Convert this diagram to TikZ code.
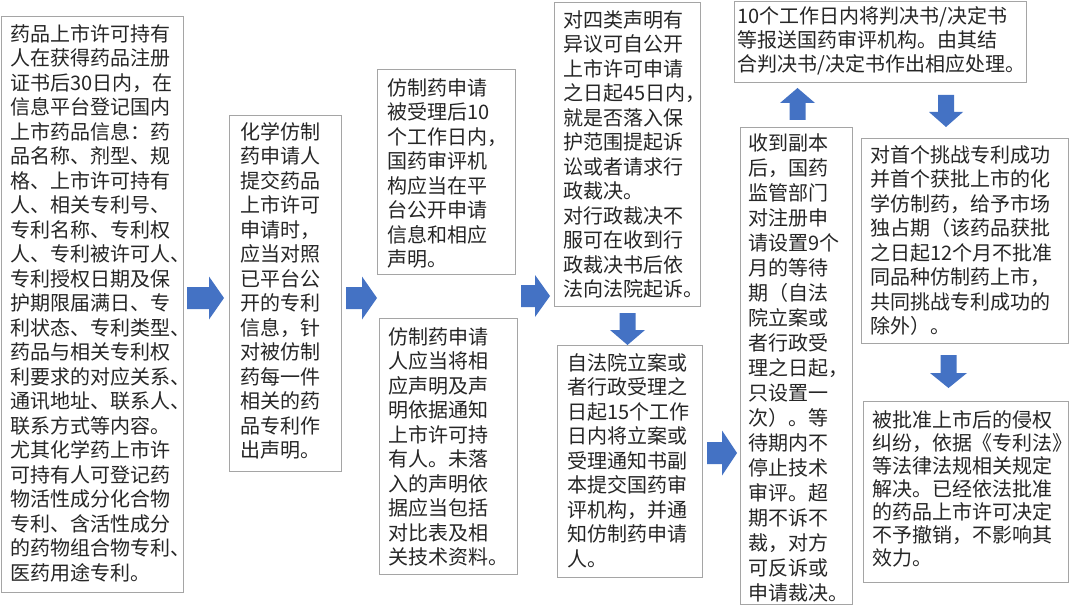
\documentclass[tikz,border=0pt]{standalone}
\usepackage{fontspec}
\newfontfamily\cjk{Noto Sans CJK SC}
\definecolor{arrowblue}{HTML}{4472C4}
\definecolor{boxgray}{HTML}{A5A5A5}
\definecolor{txtgray}{HTML}{262626}
% name, cx, cy, angle, length, head width, shaft width
\newcommand\blockarrow[7]{%
  \coordinate (#1) at (#2,#3);
  \fill[arrowblue, shift={(#1)}, rotate=#4]
    (-#5/2,-#7/2) -- (#5/2-15,-#7/2) -- (#5/2-15,-#6/2) -- (#5/2,0)
    -- (#5/2-15,#6/2) -- (#5/2-15,#7/2) -- (-#5/2,#7/2) -- cycle;}
\begin{document}
\begin{tikzpicture}[x=1pt,y=-1pt,
  frame/.style={draw=boxgray, line width=1pt, rectangle, inner sep=0pt, anchor=north west},
  txt/.style={font=\cjk\fontsize{20}{24.5}\selectfont, text=txtgray, align=left, inner sep=0pt, anchor=north west}]
\fill[white] (0,0) rectangle (1080,607);
\useasboundingbox (0,0) rectangle (1080,607);

% frames
\node[frame, minimum width=182pt, minimum height=576pt] (b1) at (1,16) {};
\node[frame, minimum width=112pt, minimum height=356pt] (b2) at (229,115) {};
\node[frame, minimum width=138pt, minimum height=205pt] (b3t) at (377,69) {};
\node[frame, minimum width=138pt, minimum height=256pt] (b3b) at (379,318) {};
\node[frame, minimum width=146pt, minimum height=304pt] (b4t) at (554,2) {};
\node[frame, minimum width=145pt, minimum height=232pt] (b4b) at (557,345) {};
\node[frame, minimum width=112pt, minimum height=477pt] (b5) at (740,127) {};
\node[frame, minimum width=292pt, minimum height=81pt] (b6t) at (734,1) {};
\node[frame, minimum width=207pt, minimum height=205pt] (b6m) at (861,138) {};
\node[frame, minimum width=205pt, minimum height=181pt] (b6b) at (863,401) {};

% texts
\node[txt] (t1) at (10,24) {药品上市许可持有\\人在获得药品注册\\证书后30日内，在\\信息平台登记国内\\上市药品信息：药\\品名称、剂型、规\\格、上市许可持有\\人、相关专利号、\\专利名称、专利权\\人、专利被许可人、\\专利授权日期及保\\护期限届满日、专\\利状态、专利类型、\\药品与相关专利权\\利要求的对应关系、\\通讯地址、联系人、\\联系方式等内容。\\尤其化学药上市许\\可持有人可登记药\\物活性成分化合物\\专利、含活性成分\\的药物组合物专利、\\医药用途专利。};
\node[txt] (t2) at (240,122) {化学仿制\\药申请人\\提交药品\\上市许可\\申请时，\\应当对照\\已平台公\\开的专利\\信息，针\\对被仿制\\药每一件\\相关的药\\品专利作\\出声明。};
\node[txt] (t3t) at (387,78) {仿制药申请\\被受理后10\\个工作日内，\\国药审评机\\构应当在平\\台公开申请\\信息和相应\\声明。};
\node[txt] (t3b) at (388,327) {仿制药申请\\人应当将相\\应声明及声\\明依据通知\\上市许可持\\有人。未落\\入的声明依\\据应当包括\\对比表及相\\关技术资料。};
\node[txt] (t4t) at (563,10) {对四类声明有\\异议可自公开\\上市许可申请\\之日起45日内，\\就是否落入保\\护范围提起诉\\讼或者请求行\\政裁决。\\对行政裁决不\\服可在收到行\\政裁决书后依\\法向法院起诉。};
\node[txt] (t4b) at (567,353) {自法院立案或\\者行政受理之\\日起15个工作\\日内将立案或\\受理通知书副\\本提交国药审\\评机构，并通\\知仿制药申请\\人。};
\node[txt, font=\cjk\fontsize{20}{25}\selectfont] (t5) at (748,133) {收到副本\\后，国药\\监管部门\\对注册申\\请设置9个\\月的等待\\期（自法\\院立案或\\者行政受\\理之日起，\\只设置一\\次）。等\\待期内不\\停止技术\\审评。超\\期不诉不\\裁，对方\\可反诉或\\申请裁决。};
\node[txt, font=\cjk\fontsize{20}{24.2}\selectfont] (t6t) at (737,6) {10个工作日内将判决书/决定书\\等报送国药审评机构。由其结\\合判决书/决定书作出相应处理。};
\node[txt] (t6m) at (870,145) {对首个挑战专利成功\\并首个获批上市的化\\学仿制药，给予市场\\独占期（该药品获批\\之日起12个月不批准\\同品种仿制药上市，\\共同挑战专利成功的\\除外）。};
\node[txt, font=\cjk\fontsize{20}{23}\selectfont] (t6b) at (872,410) {被批准上市后的侵权\\纠纷，依据《专利法》\\等法律法规相关规定\\解决。已经依法批准\\的药品上市许可决定\\不予撤销，不影响其\\效力。};

% block arrows
\blockarrow{a1}{205.5}{298}{0}{37}{43}{22}
\blockarrow{a2}{361.5}{298}{0}{31}{43}{22}
\blockarrow{a3}{535.5}{296}{0}{29}{42}{22}
\blockarrow{a4}{627.5}{329}{-90}{32}{35}{16}
\blockarrow{a5}{722}{453}{0}{30}{45}{22}
\blockarrow{a6}{797.5}{104}{90}{32}{35}{16}
\blockarrow{a7}{946}{111}{-90}{32}{34}{16}
\blockarrow{a8}{948.5}{371.5}{-90}{33}{37}{16}
\end{tikzpicture}
\end{document}
